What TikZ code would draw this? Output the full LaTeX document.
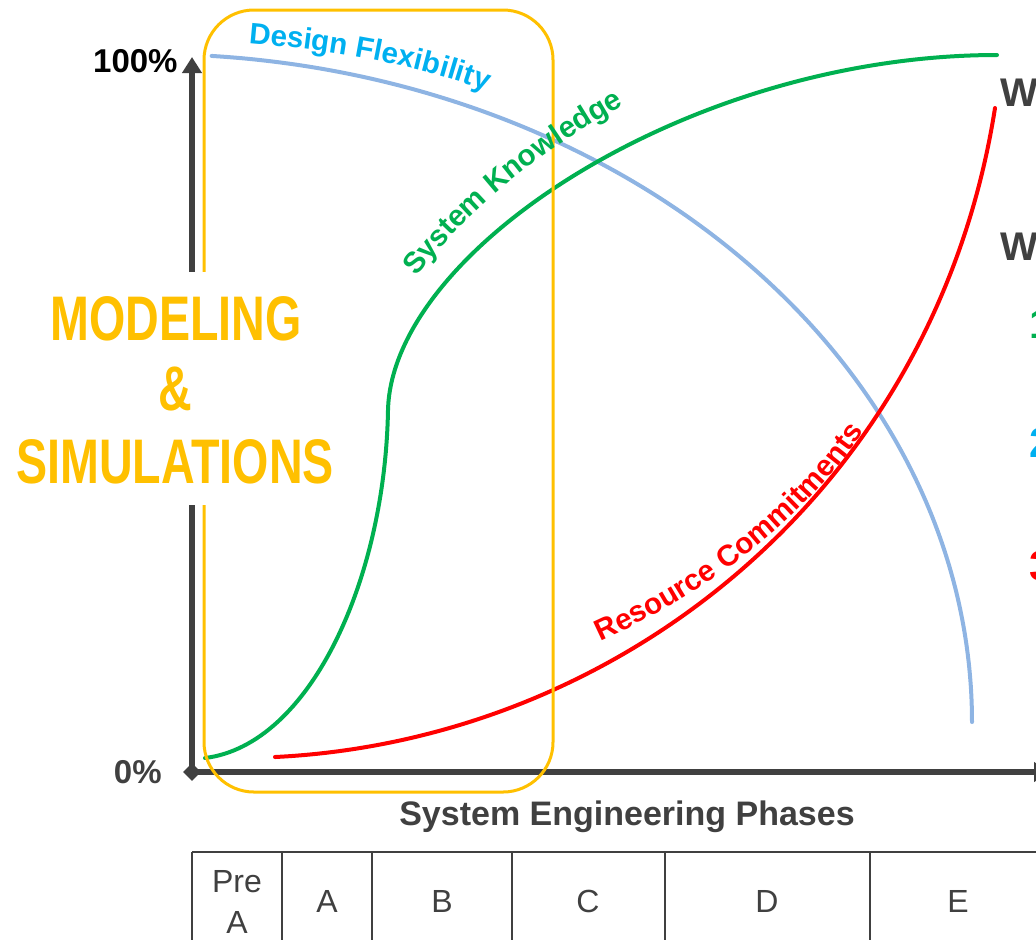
\documentclass[tikz,border=0pt]{standalone}
\usepackage{fontspec}
\usepackage{graphicx}
\setmainfont{Liberation Sans}
\usetikzlibrary{arrows.meta,shapes.geometric,decorations.text}
\definecolor{axgrey}{HTML}{404040}
\definecolor{ylw}{HTML}{FFC000}
\definecolor{grn}{HTML}{00B050}
\definecolor{cyn}{HTML}{00B0F0}
\definecolor{rd}{HTML}{FF0000}
\definecolor{flexcurve}{HTML}{8EB4E3}
\begin{document}
\begin{tikzpicture}[x=0.5pt,y=-0.5pt,
  axis/.style={draw=axgrey,line width=2.8pt},
  curve/.style={line width=2pt,line cap=round},
  tline/.style={draw=axgrey,line width=1.1pt},
  cell/.style={text=axgrey,font=\fontsize{16}{20.5}\selectfont,anchor=base,align=center,inner sep=0pt},
  lbl/.style={font=\fontsize{16.5}{20}\selectfont\bfseries,inner sep=0pt},
  ms/.style={text=ylw,font=\fontsize{31.5}{36}\selectfont\bfseries,anchor=base,inner sep=0pt},
  edge/.style={font=\fontsize{21}{24}\selectfont\bfseries,anchor=base west,inner sep=0pt},
  arrowtip/.style={-{Triangle[length=8pt,width=9.5pt]}},
]
\useasboundingbox (0,0) rectangle (1036,939);
\begin{scope}
\clip (0,0) rectangle (1036,939);

% axes
\coordinate (O) at (192,772);
\coordinate (ytop) at (192,57);
\coordinate (xend) at (1050,772);
\draw[axis,arrowtip] (O) -- (ytop);
\draw[axis,arrowtip] (O) -- (xend);
\node[diamond,fill=axgrey,inner sep=0pt,minimum size=9pt] (odiamond) at (O) {};

% curves
\draw[curve,flexcurve] plot[domain=-85.7:0,samples=90,smooth] ({150+822*cos(\x)},{722+668*sin(\x)});
\draw[curve,grn] (205,758) .. controls (310,745) and (385,580) .. (388,410)
  .. controls (392,250) and (690,55) .. (997,55);
\draw[curve,rd] (275,757) .. controls (620,740) and (935,490) .. (995,108);

% modelling box
\node[draw=ylw,line width=1.5pt,rounded corners=25pt,inner sep=0pt,
  minimum width=174.5pt,minimum height=391pt] (msbox) at (378.5,401) {};
\fill[white] (5,272) rectangle (345,505);
\node[ms] (m1) at (176,340) {\scalebox{0.74}[1]{MODELING}};
\node[ms] (m2) at (175,410) {\scalebox{0.74}[1]{\&}};
\node[ms] (m3) at (175,483) {\scalebox{0.74}[1]{SIMULATIONS}};

% curve labels
\path[decorate,decoration={text along path,text align=center,
  text={|\color{cyn}\fontsize{14.8}{17}\selectfont\bfseries|Design Flexibility}}]
  (245,43) .. controls (330,50) and (420,65) .. (490,92);
\path[decorate,decoration={text along path,text align=center,
  text={|\color{grn}\fontsize{14.8}{17}\selectfont\bfseries|System Knowledge}}]
  (412,282) .. controls (472,205) and (542,150) .. (630,102);
\path[decorate,decoration={text along path,text align=center,
  text={|\color{rd}\fontsize{14.8}{17}\selectfont\bfseries|Resource Commitments}}]
  (597,643) .. controls (700,597) and (800,527) .. (866,428);

% axis labels
\node[lbl,text=black,anchor=base east] (p100) at (178,72) {100\%};
\node[lbl,text=axgrey,anchor=base east] (p0) at (162,783) {0\%};
\node[lbl,text=axgrey,anchor=base,font=\fontsize{17}{20}\selectfont\bfseries] (xlab) at (627,825) {System Engineering Phases};

% phase table
\draw[tline] (192,852) -- (1046,852);
\foreach \xx in {192,282,372,512,665,870}{
  \draw[tline] (\xx,852) -- (\xx,945);
}
\node[cell] (preA) at (237,892) {Pre};
\node[cell] (preA2) at (237,933) {A};
\node[cell] (phA) at (327,912) {A};
\node[cell] (phB) at (442,912) {B};
\node[cell] (phC) at (588,912) {C};
\node[cell] (phD) at (767,912) {D};
\node[cell] (phE) at (958,912) {E};

% text cut by the right edge
\node[lbl,text=axgrey,anchor=base west,font=\fontsize{20}{24}\selectfont\bfseries] (w1) at (1000,106) {W};
\node[lbl,text=axgrey,anchor=base west,font=\fontsize{20}{24}\selectfont\bfseries] (w2) at (1000,260) {W};
\node[edge,text=grn] (n1) at (1029,338) {1};
\node[edge,text=cyn] (n2) at (1029,457) {2};
\node[edge,text=rd] (n3) at (1029,580) {3};
\end{scope}
\end{tikzpicture}
\end{document}
